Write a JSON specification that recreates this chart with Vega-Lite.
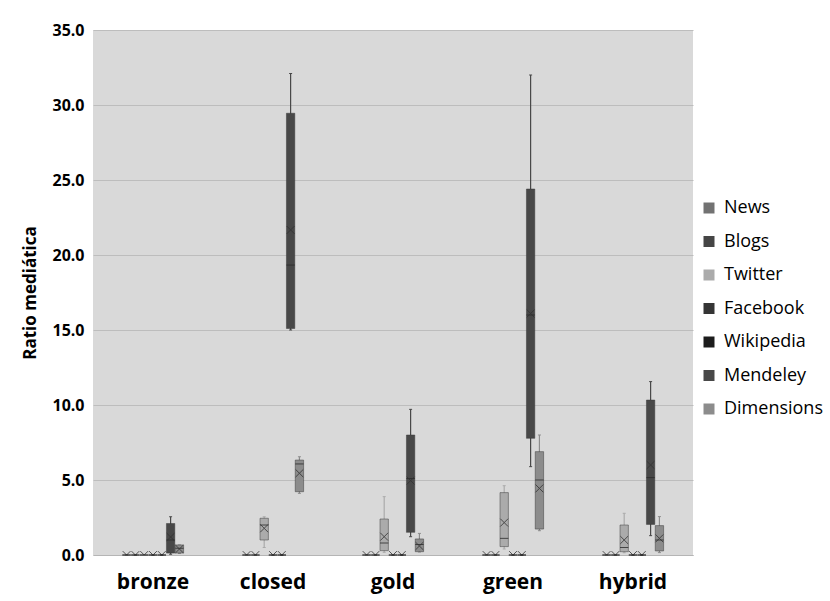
{
  "$schema": "https://vega.github.io/schema/vega-lite/v6.json",
  "autosize": "none",
  "width": 600,
  "height": 525,
  "padding": {"left": 93, "top": 30, "right": 137, "bottom": 46},
  "background": "white",
  "config": {
    "view": {"fill": "#d9d9d9", "stroke": null},
    "font": "Open Sans"
  },
  "data": {
    "values": [
      {"cat": "bronze", "series": "News", "min": 0, "q1": 0, "median": 0, "q3": 0, "max": 0, "mean": 0},
      {"cat": "bronze", "series": "Blogs", "min": 0, "q1": 0, "median": 0, "q3": 0, "max": 0, "mean": 0},
      {"cat": "bronze", "series": "Twitter", "min": 0, "q1": 0, "median": 0, "q3": 0, "max": 0, "mean": 0},
      {"cat": "bronze", "series": "Facebook", "min": 0, "q1": 0, "median": 0, "q3": 0, "max": 0, "mean": 0},
      {"cat": "bronze", "series": "Wikipedia", "min": 0, "q1": 0, "median": 0, "q3": 0, "max": 0, "mean": 0},
      {"cat": "bronze", "series": "Mendeley", "min": 0.05, "q1": 0.13, "median": 1.0, "q3": 2.1, "max": 2.55, "mean": 1.2},
      {"cat": "bronze", "series": "Dimensions", "min": 0.1, "q1": 0.13, "median": 0.45, "q3": 0.67, "max": 0.67, "mean": 0.4},
      {"cat": "closed", "series": "News", "min": 0, "q1": 0, "median": 0, "q3": 0, "max": 0, "mean": 0},
      {"cat": "closed", "series": "Blogs", "min": 0, "q1": 0, "median": 0, "q3": 0, "max": 0, "mean": 0},
      {"cat": "closed", "series": "Twitter", "min": 0.5, "q1": 1.0, "median": 2.0, "q3": 2.45, "max": 2.55, "mean": 1.78},
      {"cat": "closed", "series": "Facebook", "min": 0, "q1": 0, "median": 0, "q3": 0, "max": 0, "mean": 0},
      {"cat": "closed", "series": "Wikipedia", "min": 0, "q1": 0, "median": 0, "q3": 0, "max": 0, "mean": 0},
      {"cat": "closed", "series": "Mendeley", "min": 15.0, "q1": 15.1, "median": 19.33, "q3": 29.45, "max": 32.1, "mean": 21.67},
      {"cat": "closed", "series": "Dimensions", "min": 4.11, "q1": 4.22, "median": 6.07, "q3": 6.33, "max": 6.55, "mean": 5.45},
      {"cat": "gold", "series": "News", "min": 0, "q1": 0, "median": 0, "q3": 0, "max": 0, "mean": 0},
      {"cat": "gold", "series": "Blogs", "min": 0, "q1": 0, "median": 0, "q3": 0, "max": 0, "mean": 0},
      {"cat": "gold", "series": "Twitter", "min": 0.18, "q1": 0.29, "median": 0.8, "q3": 2.4, "max": 3.89, "mean": 1.22},
      {"cat": "gold", "series": "Facebook", "min": 0, "q1": 0, "median": 0, "q3": 0, "max": 0, "mean": 0},
      {"cat": "gold", "series": "Wikipedia", "min": 0, "q1": 0, "median": 0, "q3": 0, "max": 0, "mean": 0},
      {"cat": "gold", "series": "Mendeley", "min": 1.22, "q1": 1.51, "median": 5.1, "q3": 8.0, "max": 9.71, "mean": 4.96},
      {"cat": "gold", "series": "Dimensions", "min": 0.2, "q1": 0.22, "median": 0.7, "q3": 1.07, "max": 1.44, "mean": 0.6},
      {"cat": "green", "series": "News", "min": 0, "q1": 0, "median": 0, "q3": 0, "max": 0, "mean": 0},
      {"cat": "green", "series": "Blogs", "min": 0, "q1": 0, "median": 0, "q3": 0, "max": 0, "mean": 0},
      {"cat": "green", "series": "Twitter", "min": 0.4, "q1": 0.56, "median": 1.11, "q3": 4.16, "max": 4.62, "mean": 2.16},
      {"cat": "green", "series": "Facebook", "min": 0, "q1": 0, "median": 0, "q3": 0, "max": 0, "mean": 0},
      {"cat": "green", "series": "Wikipedia", "min": 0, "q1": 0, "median": 0, "q3": 0, "max": 0, "mean": 0},
      {"cat": "green", "series": "Mendeley", "min": 5.89, "q1": 7.78, "median": 16.0, "q3": 24.4, "max": 32.0, "mean": 16.1},
      {"cat": "green", "series": "Dimensions", "min": 1.62, "q1": 1.73, "median": 5.0, "q3": 6.89, "max": 8.0, "mean": 4.44},
      {"cat": "hybrid", "series": "News", "min": 0, "q1": 0, "median": 0, "q3": 0, "max": 0, "mean": 0},
      {"cat": "hybrid", "series": "Blogs", "min": 0, "q1": 0, "median": 0, "q3": 0, "max": 0, "mean": 0},
      {"cat": "hybrid", "series": "Twitter", "min": 0.15, "q1": 0.22, "median": 0.5, "q3": 2.0, "max": 2.78, "mean": 1.0},
      {"cat": "hybrid", "series": "Facebook", "min": 0, "q1": 0, "median": 0, "q3": 0, "max": 0, "mean": 0},
      {"cat": "hybrid", "series": "Wikipedia", "min": 0, "q1": 0, "median": 0, "q3": 0, "max": 0, "mean": 0},
      {"cat": "hybrid", "series": "Mendeley", "min": 1.29, "q1": 2.04, "median": 5.16, "q3": 10.33, "max": 11.56, "mean": 6.0},
      {"cat": "hybrid", "series": "Dimensions", "min": 0.16, "q1": 0.27, "median": 1.0, "q3": 1.96, "max": 2.56, "mean": 1.11}
    ]
  },
  "encoding": {
    "x": {
      "field": "cat", "type": "nominal", "title": null,
      "scale": {"paddingInner": 0.49, "paddingOuter": 0.245},
      "axis": {"labelAngle": 0, "labelFontSize": 21, "labelFontWeight": "bold", "labelColor": "#000", "ticks": false, "domainColor": "#b5b5b5", "labelPadding": 16}
    },
    "xOffset": {
      "field": "series", "type": "nominal",
      "sort": ["News", "Blogs", "Twitter", "Facebook", "Wikipedia", "Mendeley", "Dimensions"],
      "scale": {"paddingInner": 0.05, "paddingOuter": 0}
    }
  },
  "layer": [
    {
      "mark": {"type": "rule", "strokeWidth": 1.2},
      "encoding": {
        "y": {"field": "min", "type": "quantitative", "scale": {"domain": [0, 35]}, "title": "Ratio mediática",
          "axis": {"values": [0, 5, 10, 15, 20, 25, 30, 35], "format": ".1f", "labelFontSize": 16, "labelFontWeight": "bold", "labelColor": "#000", "ticks": false, "domain": false, "gridColor": "#bdbdbd", "gridOpacity": 1, "titleFontSize": 17, "titleFontWeight": "bold", "titleColor": "#000", "labelPadding": 9, "titlePadding": 12}},
        "y2": {"field": "max"},
        "color": {"field": "series", "type": "nominal",
          "scale": {"domain": ["News", "Blogs", "Twitter", "Facebook", "Wikipedia", "Mendeley", "Dimensions"],
                    "range": ["#727272", "#454545", "#ababab", "#353535", "#1c1c1c", "#484848", "#8c8c8c"]},
          "legend": {"title": null, "orient": "none", "legendX": 607, "legendY": 169, "symbolType": "square", "symbolSize": 121, "symbolStrokeWidth": 0, "labelFontSize": 18, "labelColor": "#000", "rowPadding": 15.5, "labelOffset": 6, "symbolOpacity": 1}}
      }
    },
    {
      "mark": {"type": "tick", "size": 3, "thickness": 1, "opacity": 1},
      "encoding": {"y": {"field": "max", "type": "quantitative"}, "color": {"field": "series", "type": "nominal"}}
    },
    {
      "mark": {"type": "tick", "size": 3, "thickness": 1, "opacity": 1},
      "encoding": {"y": {"field": "min", "type": "quantitative"}, "color": {"field": "series", "type": "nominal"}}
    },
    {
      "mark": {"type": "bar", "stroke": "#3a3a3a", "strokeWidth": 0.7, "strokeOpacity": 0.7},
      "encoding": {
        "y": {"field": "q1", "type": "quantitative"},
        "y2": {"field": "q3"},
        "color": {"field": "series", "type": "nominal"}
      }
    },
    {
      "mark": {"type": "tick", "thickness": 1, "color": "#2a2a2a", "opacity": 0.8},
      "encoding": {"y": {"field": "median", "type": "quantitative"}}
    },
    {
      "mark": {"type": "point", "shape": "M-1,-1L1,1M-1,1L1,-1", "filled": false, "size": 60, "strokeWidth": 1, "color": "#333333", "opacity": 0.8, "clip": true},
      "encoding": {"y": {"field": "mean", "type": "quantitative"}}
    }
  ]
}
